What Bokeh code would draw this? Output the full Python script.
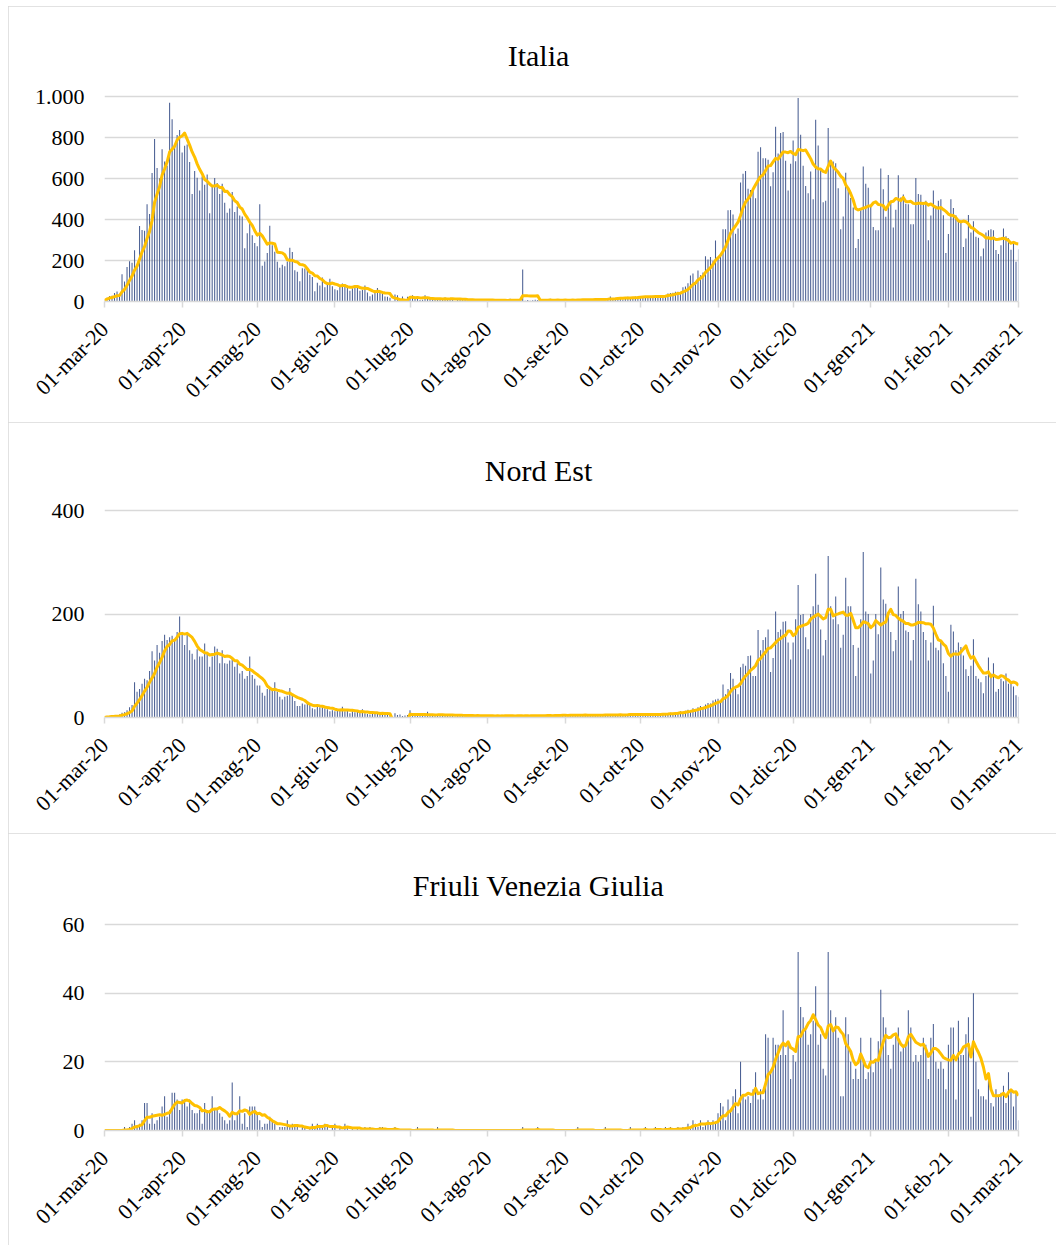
import math
import pandas as pd
from bokeh.plotting import figure
from bokeh.models import Range1d, FixedTicker, ColumnDataSource, Label
from bokeh.layouts import column
from bokeh.embed import file_html
from bokeh.resources import INLINE

# ---------------- data ----------------
START, END = "2020-03-01", "2021-03-01"

TICK_LABELS = ["01-mar-20", "01-apr-20", "01-mag-20", "01-giu-20", "01-lug-20",
               "01-ago-20", "01-set-20", "01-ott-20", "01-nov-20", "01-dic-20",
               "01-gen-21", "01-feb-21", "01-mar-21"]

TITLES = ["Italia", "Nord Est", "Friuli Venezia Giulia"]

ITALIA = [
    5, 18, 27, 28, 41, 49, 36, 133, 97, 168, 196, 189, 250, 175, 368, 349, 345, 475, 427, 627, 793, 651, 601, 743, 683, 662, 969, 889, 756, 812, 837,
    727, 760, 766, 681, 525, 636, 604, 542, 610, 570, 619, 431, 566, 602, 578, 525, 575, 482, 433, 454, 534, 437, 464, 420, 415, 260, 333, 382, 323, 285,
    269, 474, 174, 195, 236, 369, 274, 243, 194, 165, 179, 172, 195, 262, 242, 153, 145, 99, 162, 161, 156, 130, 119, 50, 92, 78, 117, 70, 87, 111, 75,
    60, 55, 71, 88, 85, 72, 53, 65, 79, 71, 53, 56, 78, 44, 26, 34, 43, 66, 47, 49, 24, 23, 18, -80, 34, 30, 8, 24, 6, 23,
    21, 30, 15, 21, 7, 8, 30, 15, 12, 12, 7, 9, 13, 17, 20, 11, 13, 11, 3, 13, 15, 9, 10, 5, 5, 5, 5, 11, 11, 9, 3,
    5, 4, 5, 6, 10, 6, 6, 3, 2, 13, 6, 6, 10, 4, 156, 4, 7, 4, 6, 9, 7, 4, 7, 4, 4, 13, 5, 9, 9, 1, 4,
    6, 10, 6, 11, 7, 7, 8, 10, 10, 10, 6, 9, 14, 7, 9, 14, 11, 10, 24, 14, 13, 20, 20, 10, 19, 23, 17, 17, 24, 24,
    23, 27, 27, 17, 18, 28, 31, 22, 28, 29, 26, 39, 41, 43, 47, 47, 41, 69, 73, 89, 127, 136, 91, 151, 128, 141, 221, 205, 217, 199, 297,
    208, 233, 353, 352, 445, 446, 425, 331, 356, 580, 623, 636, 550, 544, 546, 504, 731, 753, 699, 699, 692, 562, 630, 853, 722, 822, 827, 686, 541, 672,
    785, 684, 993, 814, 662, 564, 528, 634, 499, 887, 761, 649, 484, 491, 846, 680, 683, 674, 553, 352, 415, 628, 553, 505, 459, 261, 305, 445, 659, 575, 555,
    462, 364, 347, 348, 649, 548, 414, 617, 483, 361, 448, 616, 507, 522, 477, 475, 377, 377, 603, 524, 521, 472, 492, 299, 420, 541, 467, 492, 499, 421, 237,
    329, 499, 456, 421, 391, 385, 266, 307, 422, 336, 391, 316, 311, 221, 258, 336, 347, 353, 347, 251, 232, 274, 356, 318, 308, 253, 280, 194,
    255,
]

NORD_EST = [
    0, 2, 2, 4, 3, 5, 6, 9, 10, 14, 20, 24, 68, 50, 55, 65, 75, 72, 90, 128, 110, 140, 125, 148, 160, 150, 155, 158, 150, 165, 195,
    165, 140, 165, 130, 123, 112, 132, 118, 118, 143, 125, 98, 118, 137, 133, 105, 130, 105, 104, 110, 115, 98, 105, 85, 90, 75, 80, 118, 82, 75,
    62, 62, 48, 42, 55, 55, 52, 68, 50, 40, 35, 40, 42, 57, 45, 32, 22, 22, 27, 25, 28, 24, 18, 16, 26, 20, 20, 18, 16, 12, 14,
    12, 14, 16, 21, 12, 14, 8, 12, 10, 12, 9, 16, 8, 7, 6, 9, 8, 9, 7, 10, 6, 5, 6, -68, 8, 5, 6, 3, 4, 5,
    14, 5, 4, 6, 3, 4, 5, 11, 4, 5, 3, 4, 6, 5, 7, 4, 5, 3, 2, 6, 4, 5, 3, 4, 2, 3, 4, 5, 3, 4, 2,
    2, 3, 4, 3, 5, 2, 3, 4, 2, 3, 4, 3, 5, 2, 3, 4, 3, 2, 4, 5, 3, 4, 2, 3, 5, 4, 3, 6, 4, 3, 5,
    4, 3, 5, 6, 3, 4, 5, 4, 6, 3, 5, 4, 3, 6, 5, 4, 7, 5, 4, 3, 6, 5, 7, 4, 6, 5, 8, 6, 5, 7,
    5, 6, 4, 7, 5, 6, 8, 5, 7, 6, 8, 7, 9, 8, 10, 9, 12, 10, 13, 15, 14, 18, 16, 20, 22, 20, 25, 28, 27, 33, 35,
    36, 30, 64, 45, 55, 86, 75, 55, 45, 97, 104, 100, 119, 120, 80, 80, 169, 130, 150, 155, 170, 88, 115, 205, 165, 170, 185, 186, 145, 112,
    145, 190, 256, 198, 200, 155, 132, 200, 215, 278, 218, 170, 120, 150, 312, 215, 190, 234, 180, 135, 160, 270, 215, 215, 140, 80, 135, 190, 320, 205, 200,
    85, 110, 200, 161, 290, 228, 220, 200, 165, 128, 150, 253, 200, 206, 168, 165, 110, 150, 268, 219, 205, 165, 150, 110, 145, 216, 135, 130, 150, 105, 80,
    50, 179, 166, 130, 145, 136, 120, 93, 80, 100, 151, 80, 75, 68, 47, 80, 116, 85, 105, 50, 55, 75, 70, 85, 65, 70, 60, 43,
    40,
]

FVG = [
    0, 0, 0, 0, 0, 0, 0, 0, 1, 0, 1, 2, 3, 1, 2, 3, 8, 8, 2, 5, 2, 3, 4, 7, 10, 4, 6, 11, 11, 9, 6,
    9, 9, 7, 9, 6, 5, 5, 6, 2, 8, 6, 6, 10, 6, 6, 5, 4, 3, 2, 3, 14, 3, 5, 10, 2, 5, 1, 7, 7, 7,
    5, 3, 1, 2, 2, 4, 3, 2, 0, 1, 1, 1, 3, 1, 2, 1, 1, 0, 1, 1, 0, 1, 2, 1, 2, 1, 1, 2, 1, 0, 1,
    2, 0, 1, 0, 2, 1, 0, 1, 0, 1, 0, 0, 1, 0, 1, 0, 0, 0, 1, 1, 0, 0, 0, 0, 1, 0, 0, 0, 0, 0,
    0, 0, 0, 1, 0, 0, 0, 0, 0, 0, 0, 1, 0, 0, 0, 0, 0, 0, 0, 0, 0, 0, 0, 0, 0, 0, 0, 0, 0, 0, 0,
    0, 0, 0, 0, 0, 0, 0, 0, 0, 0, 0, 0, 0, 0, 1, 0, 0, 0, 0, 0, 1, 0, 0, 0, 0, 0, 0, 0, 0, 0, 0,
    0, 0, 0, 0, 0, 1, 0, 0, 0, 0, 0, 0, 0, 0, 0, 0, 1, 0, 0, 0, 0, 0, 0, 0, 0, 0, 1, 0, 0, 0,
    0, 0, 1, 0, 0, 0, 1, 0, 0, 0, 1, 0, 1, 0, 0, 1, 0, 1, 1, 2, 1, 3, 2, 1, 3, 1, 2, 3, 2, 3, 2,
    5, 8, 7, 3, 9, 6, 10, 12, 5, 20, 10, 9, 10, 8, 12, 17, 9, 12, 9, 28, 27, 17, 27, 25, 25, 22, 35, 22, 25, 15,
    22, 20, 52, 36, 33, 30, 25, 28, 32, 42, 25, 28, 18, 16, 52, 35, 29, 33, 27, 10, 10, 33, 28, 20, 15, 18, 15, 27, 21, 15, 17,
    27, 17, 20, 26, 41, 33, 30, 22, 18, 25, 28, 30, 23, 25, 25, 35, 30, 20, 22, 20, 22, 27, 25, 15, 27, 31, 20, 18, 20, 18, 12,
    25, 30, 30, 9, 32, 22, 22, 28, 33, 4, 40, 20, 12, 10, 10, 9, 15, 8, 7, 12, 10, 11, 13, 8, 17, 12, 7, 11,
    3,
]

Y_MAX = [1000, 400, 60]
Y_STEP = [200, 200, 20]

# ---------------- layout / styles ----------------
FONT = "Liberation Serif"
GRID = "#d9d9d9"
BAR_COLOR = "#4a5f93"
LINE_COLOR = "#FFC000"
TITLE_SIZE = 30
EXTRA = 70          # px of blank frame above the top gridline, holds the title

dates = pd.date_range(START, END, freq="D")
day = (dates - dates[0]).days.to_numpy()
month_starts = pd.date_range(START, END, freq="MS")
tick_pos = [int((d - dates[0]).days) for d in month_starts]

# (top border, data-area height, bottom border, title baseline px above top gridline)
GEOM = [(90, 205, 121, 41), (88, 207, 116, 40), (91, 206, 115, 39)]
TITLE_CENTER_PX = 538 - 104   # px from the frame's left edge

figs = []
for title, vals, ymax, ystep, (top, fh, bot, tb) in zip(
        TITLES, [ITALIA, NORD_EST, FVG], Y_MAX, Y_STEP, GEOM):
    assert len(vals) == len(dates)
    ma = pd.Series(vals, dtype=float).rolling(7, min_periods=1).mean()
    src = ColumnDataSource(dict(x=day, v=vals, ma=ma.to_numpy()))

    per_px = ymax / fh
    y_end = ymax + EXTRA * per_px
    x_end = len(dates) - 1

    p = figure(frame_width=914, frame_height=fh + EXTRA,
               min_border_left=96, min_border_right=38,
               min_border_top=top - EXTRA, min_border_bottom=bot,
               x_range=Range1d(0, x_end), y_range=Range1d(0, y_end),
               output_backend="svg", toolbar_location=None)
    p.styles = {"outline": "1px solid #d9d9d9", "outline-offset": "-1px"}
    p.background_fill_color = "white"
    p.border_fill_color = "white"
    p.outline_line_color = None

    p.vbar(x="x", top="v", bottom=0, width=0.42, source=src,
           fill_color=BAR_COLOR, line_color=None)
    p.line(x="x", y="ma", source=src, line_color=LINE_COLOR, line_width=3,
           line_join="round")

    # title, drawn inside the (blank) upper part of the frame
    p.add_layout(Label(x=TITLE_CENTER_PX / 914 * x_end, y=ymax + tb * per_px,
                       text=title, text_align="center",
                       text_baseline="alphabetic", text_font=FONT,
                       text_font_size=f"{TITLE_SIZE}px", text_color="#000000"))

    # axes
    yt = list(range(0, ymax + 1, ystep))
    p.yaxis.ticker = FixedTicker(ticks=yt)
    if ymax >= 1000:
        p.yaxis.major_label_overrides = {1000: "1.000"}
    p.yaxis.axis_line_color = None
    p.yaxis.major_tick_line_color = None
    p.yaxis.minor_tick_line_color = None
    p.yaxis.major_label_standoff = 14
    p.yaxis.major_label_text_font = FONT
    p.yaxis.major_label_text_font_size = "22px"
    p.yaxis.major_label_text_color = "#000000"

    p.xaxis.ticker = FixedTicker(ticks=tick_pos)
    p.xaxis.major_label_overrides = dict(zip(tick_pos, TICK_LABELS))
    p.xaxis.major_label_orientation = math.pi / 4
    p.xaxis.axis_line_color = GRID
    p.xaxis.axis_line_width = 1.5
    p.xaxis.major_tick_line_color = GRID
    p.xaxis.major_tick_line_width = 1.5
    p.xaxis.major_tick_in = 0
    p.xaxis.major_tick_out = 6
    p.xaxis.minor_tick_line_color = None
    p.xaxis.major_label_standoff = 18
    p.xaxis.major_label_text_font = FONT
    p.xaxis.major_label_text_font_size = "22px"
    p.xaxis.major_label_text_color = "#000000"

    p.xgrid.visible = False
    p.ygrid.ticker = FixedTicker(ticks=yt)
    p.ygrid.grid_line_color = GRID
    p.ygrid.grid_line_width = 1.5
    figs.append(p)

layout = column(*figs, spacing=0, margin=(6, 0, 0, 8))
open("out.html", "w").write(file_html(layout, INLINE))
